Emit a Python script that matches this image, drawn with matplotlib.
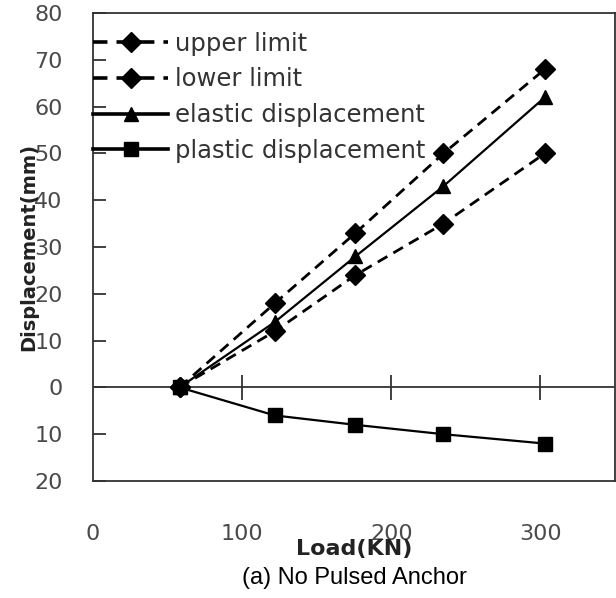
import matplotlib
matplotlib.use("Agg")
import matplotlib.pyplot as plt
from matplotlib.ticker import FuncFormatter

# --- DATA ---
load = [58, 122, 176, 235, 303]
upper_limit = [0, 18, 33, 50, 68]
lower_limit = [0, 12, 24, 35, 50]
elastic = [0, 14, 28, 43, 62]
plastic = [0, -6, -8, -10, -12]

x_ticks = [0, 100, 200, 300]
y_ticks = [-20, -10, 0, 10, 20, 30, 40, 50, 60, 70, 80]

plt.rcParams['font.family'] = ['DejaVu Sans']

fig = plt.figure(figsize=(6.16, 5.98), dpi=100)
ax = fig.add_axes([93 / 616, 1 - 481 / 598, 522 / 616, 468 / 598])

dash = (4, 2.5)
ax.plot(load, upper_limit, color='black', lw=2, dashes=dash, marker='D', ms=10,
        label='upper limit')
ax.plot(load, lower_limit, color='black', lw=2, dashes=dash, marker='D', ms=10,
        label='lower limit')
ax.plot(load, elastic, color='black', lw=1.6, marker='^', ms=10,
        label='elastic displacement')
ax.plot(load, plastic, color='black', lw=1.6, marker='s', ms=10,
        label='plastic displacement')

ax.set_xlim(0, 350)
ax.set_ylim(-20, 80)

grey = '#333333'
for s in ax.spines.values():
    s.set_color(grey)
    s.set_linewidth(1.3)

ax.axhline(0, color=grey, lw=1.3, zorder=1)

# y axis: inward ticks, absolute-value labels
ax.set_yticks(y_ticks)
ax.yaxis.set_major_formatter(FuncFormatter(lambda v, p: f"{abs(v):.0f}"))
ax.tick_params(axis='y', direction='in', length=9, width=1.3, color=grey,
               pad=22, labelsize=16, labelcolor='#4a4a4a')

# x axis labels below the box, tick marks on the zero line
ax.set_xticks(x_ticks)
ax.tick_params(axis='x', length=0, pad=31, labelsize=16, labelcolor='#4a4a4a')
sec = ax.secondary_xaxis(0.2)
sec.set_xticks([100, 200, 300])
sec.tick_params(direction='inout', length=18, width=1.3, color=grey, labelbottom=False)
sec.spines['bottom'].set_visible(False)

ax.set_ylabel('Displacement(mm)', fontsize=14, fontweight='bold', color='#222222')
ax.yaxis.set_label_coords(-0.105, 0.5)
fig.text(354 / 616, 1 - 549 / 598, 'Load(KN)', ha='center', va='center',
         fontsize=16, fontweight='bold', color='#222222')
fig.text(354 / 616, 1 - 578 / 598, '(a) No Pulsed Anchor', ha='center', va='center',
         fontsize=17, color='black', family='Liberation Sans')

leg = ax.legend(loc='upper left', frameon=False, fontsize=17.5, handlelength=3.1,
                handletextpad=0.28, borderaxespad=0, borderpad=0,
                labelspacing=0.48, bbox_to_anchor=(0, 0.960), labelcolor='#333333')
for h in leg.legend_handles:
    h.set_linewidth(2.6)

fig.savefig('out.png', dpi=100)
